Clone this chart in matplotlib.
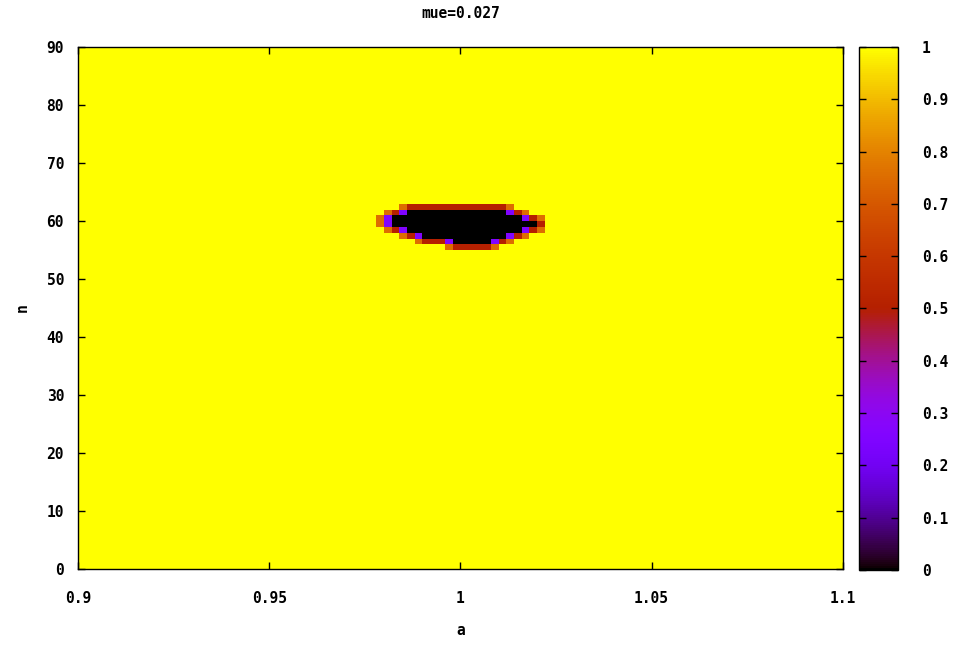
import numpy as np
import matplotlib
matplotlib.use('Agg')
import matplotlib.pyplot as plt

# grid of the scan
a_vals = np.round(np.arange(0.9, 1.1 + 1e-9, 0.002), 4)
n_vals = np.arange(0, 91, 1)

# rows of the dark region (value 0): n, a_from, a_to
blob = [
    (56, 0.998, 1.008),
    (57, 0.990, 1.012),
    (58, 0.985, 1.016),
    (59, 0.982, 1.020),
    (60, 0.980, 1.021),
    (61, 0.981, 1.016),
    (62, 0.985, 1.012),
]

x_ticks = [0.9, 0.95, 1.0, 1.05, 1.1]
x_labels = ['0.9', '0.95', '1', '1.05', '1.1']
y_ticks = list(range(0, 91, 10))
cb_ticks = [0, 0.1, 0.2, 0.3, 0.4, 0.5, 0.6, 0.7, 0.8, 0.9, 1]
cb_labels = ['0', '0.1', '0.2', '0.3', '0.4', '0.5', '0.6', '0.7', '0.8', '0.9', '1']

z = np.ones((len(n_vals), len(a_vals)))
for n, a0, a1 in blob:
    row = np.where(n_vals == n)[0][0]
    z[row, (a_vals >= a0 - 1e-9) & (a_vals <= a1 + 1e-9)] = 0.0

# pm3d style: each quad gets the mean of its four corners
zc = (z[:-1, :-1] + z[1:, :-1] + z[:-1, 1:] + z[1:, 1:]) / 4.0

plt.rcParams['font.family'] = 'DejaVu Sans Mono'
plt.rcParams['font.weight'] = 'bold'
plt.rcParams['font.size'] = 10.5

fig = plt.figure(figsize=(9.56, 6.45), dpi=100)
ax = fig.add_axes([0.0816, 0.1178, 0.800, 0.809])
cax = fig.add_axes([0.8985, 0.1163, 0.041, 0.811])

mesh = ax.pcolormesh(a_vals, n_vals, zc, cmap='gnuplot', vmin=0, vmax=1,
                     shading='flat', rasterized=True)
ax.set_xlim(0.9, 1.1)
ax.set_ylim(0, 90)
ax.set_xticks(x_ticks)
ax.set_xticklabels(x_labels)
ax.set_yticks(y_ticks)
ax.tick_params(direction='in', length=5, width=1, top=True, right=True,
               labelsize=10.5)
ax.tick_params(axis='x', pad=16)
ax.tick_params(axis='y', pad=10)
for s in ax.spines.values():
    s.set_linewidth(1)

ax.set_title('mue=0.027', fontsize=10.5, fontweight='bold', pad=21)
ax.set_xlabel('a', fontsize=10.5, fontweight='bold', labelpad=12)
ax.set_ylabel('n', fontsize=10.5, fontweight='bold', labelpad=12)

cb = fig.colorbar(mesh, cax=cax)
cb.set_ticks(cb_ticks)
cb.set_ticklabels(cb_labels)
cax.tick_params(direction='in', length=5, width=1, left=True, right=True,
                labelsize=10.5, pad=17)
cb.outline.set_linewidth(1)

fig.savefig('out.png', dpi=100)
